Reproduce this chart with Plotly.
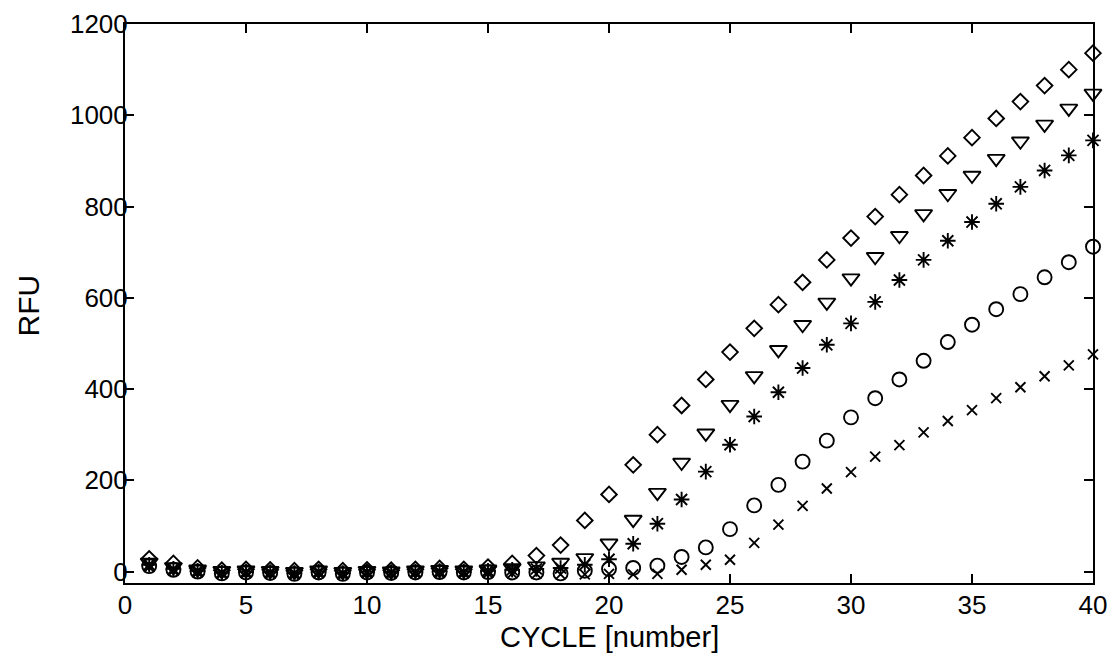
import plotly.graph_objects as go

cycles = list(range(1, 41))

series_diamond = [28, 18, 8, 3, 5, 4, 2, 5, 2, 4, 3, 5, 7, 5, 10, 18, 35, 58, 112, 169,
                  234, 300, 364, 421, 481, 533, 585, 634, 683, 731, 778, 826, 868, 911, 951, 993,
                  1030, 1065, 1100, 1136]
series_triangle = [20, 10, 5, 2, 3, 2, 0, 3, 0, 2, 1, 3, 4, 3, 5, 8, 12, 20, 30, 62,
                   114, 173, 239, 303, 366, 429, 486, 541, 590, 643, 690, 736, 784, 828, 868, 905,
                   943, 980, 1015, 1048]
series_asterisk = [15, 6, 2, -2, 0, -1, -3, 0, -3, 0, -1, 0, 1, 0, 2, 4, 6, 8, 15, 27,
                   61, 105, 158, 219, 278, 340, 393, 446, 497, 544, 591, 639, 683, 725, 766, 806,
                   843, 879, 912, 945]
series_circle = [12, 4, 0, -4, -2, -3, -5, -2, -5, -2, -3, -2, -1, -2, -1, -2, -2, -4, 2, 6,
                 8, 13, 32, 53, 93, 145, 190, 241, 287, 338, 380, 421, 462, 503, 541, 575,
                 608, 645, 678, 712]
series_x = [10, 2, -2, -5, -4, -5, -7, -4, -7, -4, -5, -4, -3, -4, -3, -4, -5, -6, -6, -5,
            -6, -5, 4, 15, 26, 63, 103, 144, 182, 218, 252, 277, 305, 330, 354, 380,
            404, 428, 452, 476]

x_ticks = [0, 5, 10, 15, 20, 25, 30, 35, 40]
y_ticks = [0, 200, 400, 600, 800, 1000, 1200]
x_title = "CYCLE [number]"
y_title = "RFU"

specs = [
    (series_diamond, "diamond-open", 12),
    (series_triangle, "triangle-down-open", 15),
    (series_asterisk, "asterisk-open", 13),
    (series_circle, "circle-open", 14),
    (series_x, "x-thin-open", 10),
]

fig = go.Figure()
for vals, sym, sz in specs:
    fig.add_trace(go.Scatter(
        x=cycles, y=vals, mode="markers", cliponaxis=False,
        marker=dict(symbol=sym, size=sz, color="black",
                    line=dict(color="black", width=1.9)),
        showlegend=False,
    ))

font = "Liberation Sans, Arial, sans-serif"
axis_common = dict(
    showline=True, linewidth=2, linecolor="black", mirror="ticks",
    ticks="inside", ticklen=9, tickwidth=1.5, tickcolor="black",
    showgrid=False, zeroline=False, automargin=False,
    tickfont=dict(family=font, size=26, color="black"),
)

fig.update_layout(
    width=1113, height=655,
    margin=dict(l=125, r=20, t=24, b=72),
    paper_bgcolor="white", plot_bgcolor="white",
    xaxis=dict(range=[0, 40], tickvals=x_ticks, ticktext=[str(v) for v in x_ticks],
               ticklabelstandoff=-2, **axis_common),
    yaxis=dict(range=[-25, 1200], tickvals=y_ticks, ticktext=[str(v) for v in y_ticks],
               ticklabelstandoff=-10, **axis_common),
    annotations=[
        dict(text=x_title, xref="paper", yref="paper", x=0.5, y=-0.097,
             xanchor="center", yanchor="middle", showarrow=False,
             font=dict(family=font, size=29, color="black")),
        dict(text=y_title, xref="paper", yref="paper", x=-0.1, y=0.497,
             xanchor="center", yanchor="middle", showarrow=False, textangle=-90,
             font=dict(family=font, size=30, color="black")),
    ],
)

fig.write_html("out.html", config={"displayModeBar": False},
               post_script="document.body.style.margin='0';")
